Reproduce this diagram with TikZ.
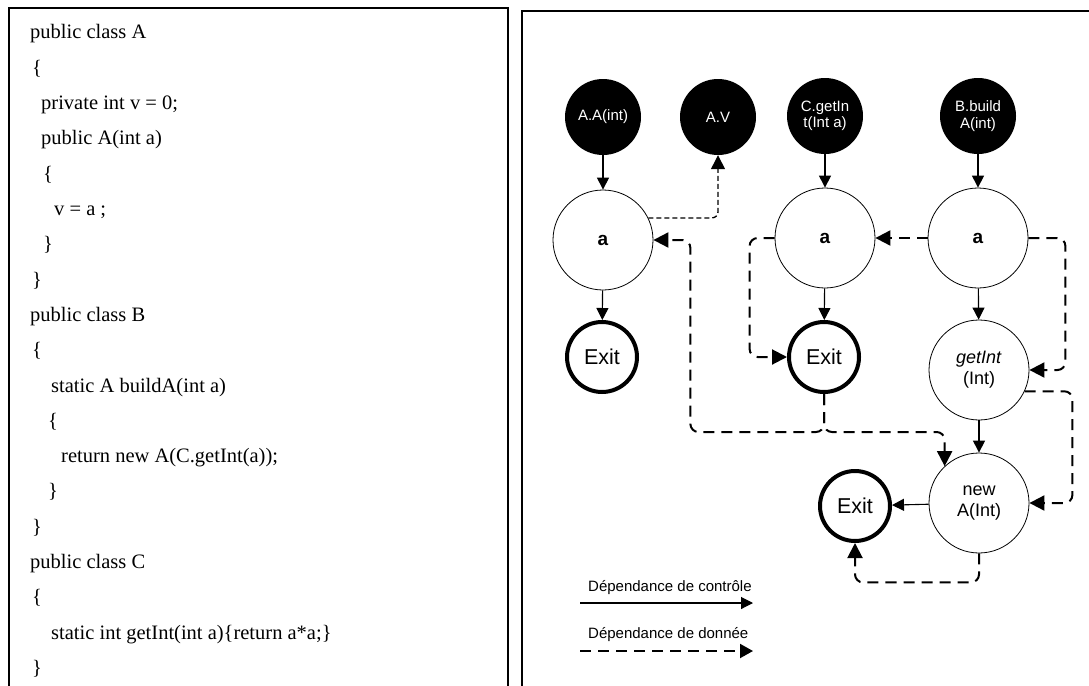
\documentclass[tikz,border=0pt]{standalone}
\usepackage{fontspec}
\setmainfont{Liberation Serif}
\newfontfamily\arial{Liberation Sans}
\usetikzlibrary{arrows.meta,calc}
\tikzset{
  codeline/.style={anchor=base west, inner sep=0pt, font=\fontsize{20.5}{24}\selectfont},
  blk/.style={circle, fill=black, minimum size=76pt, inner sep=0pt, text=white, align=center, font=\arial\fontsize{15}{16.5}\selectfont},
  wht/.style={circle, draw, line width=0.8pt, minimum size=100pt, inner sep=0pt, align=center, font=\arial\fontsize{18}{21}\selectfont},
  exitn/.style={circle, draw, line width=4pt, minimum size=70pt, inner sep=0pt, font=\arial\fontsize{21.5}{24}\selectfont},
  ctrl/.style={-{Triangle[length=12pt,width=12pt]}, line width=1.1pt},
  data/.style={-{Triangle[length=15pt,width=15pt]}, line width=2pt, dash pattern=on 11pt off 7pt, rounded corners=8pt},
  datathin/.style={-{Triangle[length=14pt,width=14pt]}, line width=1.3pt, dash pattern=on 5pt off 3pt, rounded corners=6pt},
  frame/.style={line width=2.2pt},
  legtext/.style={anchor=west, inner sep=0pt, font=\arial\fontsize{15}{17}\selectfont}
}
\begin{document}
\begin{tikzpicture}[x=1pt,y=-1pt]
\useasboundingbox (0,0) rectangle (1089,685);
% frames
\draw[frame] (9,700) -- (9,8) -- (508,8) -- (508,700);
\draw[frame] (522,700) -- (522,11) -- (1100,11);
% code
\node[codeline] (c0)  at (30,39.0)  {public class A};
\node[codeline] (c1)  at (32,74.3)  {\{};
\node[codeline] (c2)  at (41,109.6) {private int v = 0;};
\node[codeline] (c3)  at (41,144.9) {public A(int a)};
\node[codeline] (c4)  at (43,180.2) {\{};
\node[codeline] (c5)  at (54,215.5) {v = a ;};
\node[codeline] (c6)  at (43,250.8) {\}};
\node[codeline] (c7)  at (32,286.1) {\}};
\node[codeline] (c8)  at (30,321.4) {public class B};
\node[codeline] (c9)  at (32,356.7) {\{};
\node[codeline] (c10) at (51,392.0) {static A buildA(int a)};
\node[codeline] (c11) at (48,427.3) {\{};
\node[codeline] (c12) at (61,462.6) {return new A(C.getInt(a));};
\node[codeline] (c13) at (48,497.9) {\}};
\node[codeline] (c14) at (32,533.2) {\}};
\node[codeline] (c15) at (30,568.5) {public class C};
\node[codeline] (c16) at (32,603.8) {\{};
\node[codeline] (c17) at (51,639.1) {static int getInt(int a)\{return a*a;\}};
\node[codeline] (c18) at (32,674.4) {\}};
% entry nodes
\node[blk] (aa) at (603,117) {A.A(int)};
\node[blk] (av) at (718,117) {A.V};
\node[blk] (cg) at (825,116) {C.getIn\\t(Int a)};
\node[blk] (bb) at (978,116) {B.build\\A(int)};
% parameter nodes
\node[wht] (a1) at (603,240) {\bfseries\fontsize{19}{22}\selectfont a};
\node[wht] (a2) at (825,238) {\bfseries\fontsize{19}{22}\selectfont a};
\node[wht] (a3) at (978,238) {\bfseries\fontsize{19}{22}\selectfont a};
\node[exitn] (ex1) at (602,357) {Exit};
\node[exitn] (ex2) at (824,357) {Exit};
\node[wht] (gi) at (979,370) {\textit{getInt}\\(Int)};
\node[wht] (na) at (979,503) {new\\A(Int)};
\node[exitn] (ex3) at (855,506) {Exit};
% control dependences
\draw[ctrl] (aa) -- (a1);
\draw[ctrl] (a1) -- (ex1);
\draw[ctrl] (cg) -- (a2);
\draw[ctrl] (a2) -- (ex2);
\draw[ctrl] (bb) -- (a3);
\draw[ctrl] (a3) -- (gi);
\draw[ctrl] (gi) -- (na);
\draw[ctrl] (na) -- (ex3);
% data dependences
\draw[datathin] (a1.26) -| (av.south);
\draw[data] (a3.west) -- (a2.east);
\draw[data] (a3.east) -- ++(37,0) |- (gi.east);
\draw[data] (a2.west) -- ++(-25,0) |- (ex2.west);
\draw[data] (ex2.south) -- ++(0,38) -| ([xshift=37pt]a1.east) -- (a1.east);
\draw[data] (ex2.south) -- ++(0,38) -| (na.133);
\draw[data] (gi.-25) -| ([xshift=43pt]na.east) -- (na.east);
\draw[data] (na.south) -- ++(0,29) -| (ex3.south);
% legend
\node[legtext] (lt1) at (588,588) {Dépendance de contrôle};
\coordinate (l1s) at (580,603);
\coordinate (l1e) at (753,603);
\draw[ctrl] (l1s) -- (l1e);
\node[legtext] (lt2) at (588,635) {Dépendance de donnée};
\coordinate (l2s) at (580,651);
\coordinate (l2e) at (753,651);
\draw[data, -{Triangle[length=13pt,width=14pt]}] (l2s) -- (l2e);
\end{tikzpicture}
\end{document}
